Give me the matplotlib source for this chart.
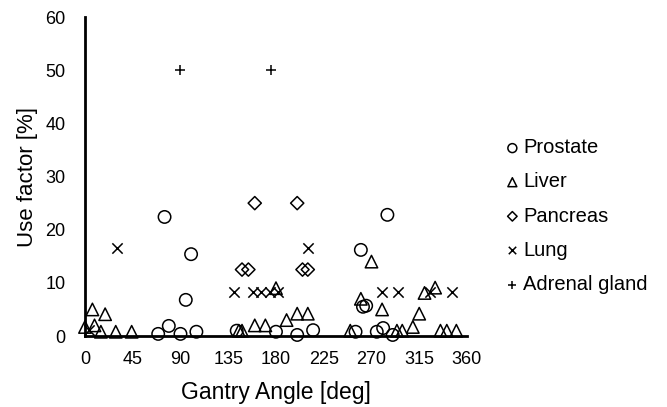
import matplotlib.pyplot as plt

plt.rcParams['font.family'] = ['Liberation Sans', 'DejaVu Sans']

# Use factor [%] by gantry angle [deg]
prostate_angle = [75, 100, 95, 285, 260, 265, 262, 69, 79, 90, 105, 143, 180, 200, 215, 255, 275, 281, 290]
prostate_use = [22.4, 15.4, 6.8, 22.8, 16.2, 5.7, 5.5, 0.4, 1.9, 0.4, 0.8, 1.0, 0.8, 0.2, 1.1, 0.8, 0.8, 1.5, 0.2]

liver_angle = [0, 7, 19, 9, 15, 29, 44, 145, 148, 160, 170, 180, 190, 200, 210,
               250, 260, 270, 280, 294, 299, 309, 315, 320, 330, 335, 341, 350]
liver_use = [1.7, 5.0, 4.1, 2.0, 0.8, 0.8, 0.8, 1.0, 1.0, 2.0, 2.0, 9.0, 3.0, 4.2, 4.2,
             1.0, 7.0, 14.0, 5.0, 1.0, 1.0, 1.7, 4.2, 8.1, 9.1, 1.0, 1.0, 1.0]

pancreas_angle = [160, 200, 148, 154, 205, 210]
pancreas_use = [25, 25, 12.5, 12.5, 12.5, 12.5]

lung_angle = [4, 30, 210, 140, 158, 166, 174, 182, 280, 295, 325, 346]
lung_use = [1.2, 16.6, 16.6, 8.2, 8.2, 8.2, 8.2, 8.2, 8.3, 8.3, 8.3, 8.3]

adrenal_angle = [90, 175]
adrenal_use = [50, 50]

fig = plt.figure(figsize=(6.67, 4.07), dpi=100)
ax = fig.add_axes([0.1274, 0.1744, 0.5727, 0.7836])

ax.scatter(prostate_angle, prostate_use, s=80, marker='o', facecolors='none',
           edgecolors='black', linewidths=1.1, label='Prostate', clip_on=False, zorder=3)
ax.scatter(liver_angle, liver_use, s=80, marker='^', facecolors='none',
           edgecolors='black', linewidths=1.1, label='Liver', clip_on=False, zorder=3)
ax.scatter(pancreas_angle, pancreas_use, s=45, marker='D', facecolors='none',
           edgecolors='black', linewidths=1.1, label='Pancreas', clip_on=False, zorder=3)
ax.scatter(lung_angle, lung_use, s=55, marker='x', color='black',
           linewidths=1.1, label='Lung', clip_on=False, zorder=3)
ax.scatter(adrenal_angle, adrenal_use, s=60, marker='+', color='black',
           linewidths=1.1, label='Adrenal gland', clip_on=False, zorder=3)

ax.set_xlim(0, 360)
ax.set_ylim(0, 60)
ax.set_xticks(range(0, 361, 45))
ax.set_yticks(range(0, 61, 10))
ax.tick_params(axis='both', length=0, labelsize=13)
ax.tick_params(axis='y', pad=14)
ax.tick_params(axis='x', pad=11)

for side in ['top', 'right']:
    ax.spines[side].set_visible(False)
for side in ['left', 'bottom']:
    ax.spines[side].set_linewidth(2)

ax.set_xlabel('Gantry Angle [deg]', fontsize=16.5, labelpad=9)
ax.set_ylabel('Use factor [%]', fontsize=16, labelpad=5)

ax.legend(loc='center left', bbox_to_anchor=(1.045, 0.376), frameon=False,
          fontsize=14.5, handletextpad=0.05, labelspacing=0.75, markerscale=0.72,
          handlelength=1.0)

fig.savefig('out.png', dpi=100)
